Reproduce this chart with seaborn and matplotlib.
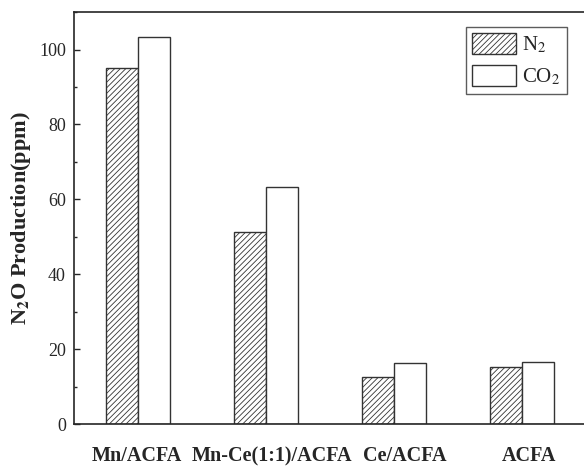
import pandas as pd
import seaborn as sns
import matplotlib.pyplot as plt
import matplotlib.transforms as mtransforms
from matplotlib.ticker import MultipleLocator

# Values
catalysts = ["Mn/ACFA", "Mn-Ce(1:1)/ACFA", "Ce/ACFA", "ACFA"]
n2_values = [95.0, 51.3, 12.5, 15.2]
co2_values = [103.3, 63.4, 16.2, 16.5]
series = ["N$_2$", "CO$_2$"]

df = pd.DataFrame({
    "catalyst": catalysts * 2,
    "atmosphere": [series[0]] * 4 + [series[1]] * 4,
    "value": n2_values + co2_values,
})

sns.set_style("ticks")
plt.rcParams['font.family'] = ['Liberation Serif', 'DejaVu Serif']
plt.rcParams['mathtext.fontset'] = 'stix'
plt.rcParams['hatch.linewidth'] = 0.6
plt.rcParams['hatch.color'] = '#444444'

fig = plt.figure(figsize=(5.84, 4.66), dpi=100)
ax = fig.add_axes([0.127, 0.090, 0.876, 0.884])

sns.barplot(data=df, x="catalyst", y="value", hue="atmosphere",
            hue_order=series, palette=["white", "white"], width=0.5,
            edgecolor="#333333", linewidth=1.0, gap=0, ax=ax)

# hatch the N2 bars
for bar in ax.containers[0]:
    bar.set_hatch("//////")

ax.set_xlim(-0.5, 3.5)
ax.set_ylim(0, 110)
ax.yaxis.set_major_locator(MultipleLocator(20))
ax.yaxis.set_minor_locator(MultipleLocator(10))
ax.tick_params(axis='y', direction='in', labelsize=13, length=4, width=1, pad=6)
ax.tick_params(axis='y', which='minor', direction='in', length=2.5, width=1)
ax.tick_params(axis='x', length=0, labelsize=14.5, pad=16)

# labels in the original sit a little right of the group centres
shifts = [-1, 6, 11, 7]
for lbl, dx in zip(ax.get_xticklabels(), shifts):
    lbl.set_fontweight('bold')
    lbl.set_transform(lbl.get_transform() +
                      mtransforms.ScaledTranslation(dx / 100, 0, fig.dpi_scale_trans))

ax.set_xlabel("")
ax.set_ylabel("N$_\\mathbf{2}$O Production(ppm)", fontsize=16, fontweight='bold',
              labelpad=4)

for side in ["left", "bottom", "top"]:
    ax.spines[side].set_linewidth(1.2)
ax.spines["right"].set_visible(False)

handles, labels = ax.get_legend_handles_labels()
handles[0].set_hatch("//////")
ax.legend(handles, labels, loc="upper right", bbox_to_anchor=(0.963, 0.964),
          fontsize=15, frameon=True, fancybox=False, edgecolor="#333333",
          handlelength=2.1, handleheight=1.15, borderpad=0.3,
          labelspacing=0.45, handletextpad=0.3, borderaxespad=0)

fig.savefig("out.png", dpi=100)
